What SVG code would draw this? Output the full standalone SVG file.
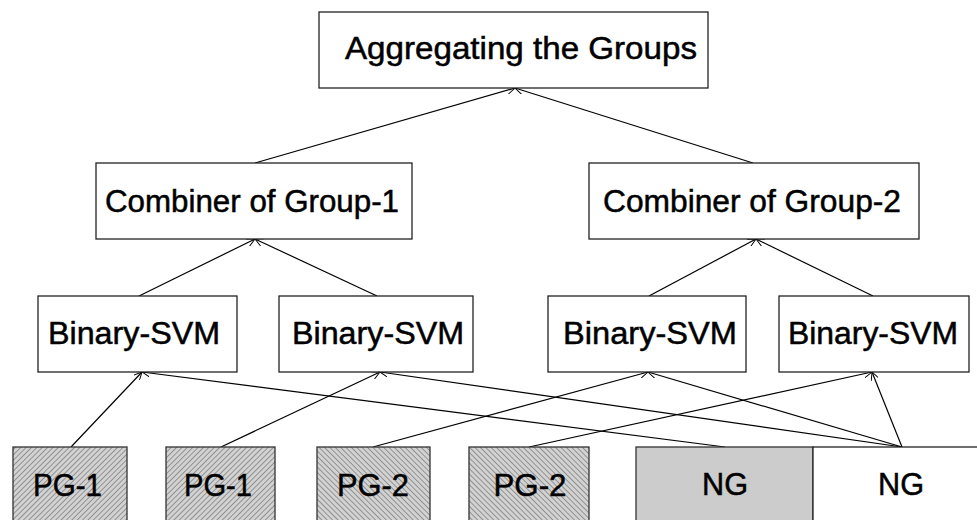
<svg xmlns="http://www.w3.org/2000/svg" width="977" height="520" viewBox="0 0 977 520">
<style>
.box{fill:#fff;stroke:#222;stroke-width:1.3}
.pg1{fill:url(#h1);stroke:#333;stroke-width:1.3}
.pg2{fill:url(#h2);stroke:#333;stroke-width:1.3}
.ng{fill:#cccccc;stroke:#333;stroke-width:1.3}
.t{font-family:"Liberation Sans",Arial,sans-serif;font-size:31px;fill:#000;stroke:#000;stroke-width:0.5;text-anchor:middle}
.c{stroke:#000;stroke-width:1.2;fill:none;marker-end:url(#a)}
</style>
<defs>
<pattern id="h1" patternUnits="userSpaceOnUse" width="3.8" height="3.8" patternTransform="rotate(45)">
<rect width="3.8" height="3.8" fill="#d2d2d2"/>
<line x1="0" y1="0" x2="0" y2="3.8" stroke="#444" stroke-width="0.9"/>
</pattern>
<pattern id="h2" patternUnits="userSpaceOnUse" width="3.8" height="3.8" patternTransform="rotate(-45)">
<rect width="3.8" height="3.8" fill="#d2d2d2"/>
<line x1="0" y1="0" x2="0" y2="3.8" stroke="#444" stroke-width="0.9"/>
</pattern>
<marker id="a" viewBox="0 0 10 10" refX="10" refY="5" markerWidth="8" markerHeight="8" markerUnits="userSpaceOnUse" orient="auto">
<path d="M0,0 L10,5 L0,10" fill="none" stroke="#000" stroke-width="1.2"/>
</marker>
</defs>
<g id="connectors">
<line class="c" x1="255" y1="163" x2="515" y2="88"/>
<line class="c" x1="753" y1="163" x2="515" y2="88"/>
<line class="c" x1="139" y1="296" x2="255" y2="239"/>
<line class="c" x1="377" y1="296" x2="255" y2="239"/>
<line class="c" x1="649" y1="296" x2="756" y2="239"/>
<line class="c" x1="873" y1="296" x2="756" y2="239"/>
<line class="c" x1="71" y1="447" x2="142" y2="372"/>
<line class="c" x1="221" y1="447" x2="380" y2="372"/>
<line class="c" x1="373" y1="447" x2="648" y2="372"/>
<line class="c" x1="529" y1="447" x2="872" y2="372"/>
<line class="c" x1="725" y1="447" x2="142" y2="372"/>
<line class="c" x1="902" y1="447" x2="380" y2="372"/>
<line class="c" x1="902" y1="447" x2="648" y2="372"/>
<line class="c" x1="902" y1="447" x2="872" y2="372"/>
</g>
<g id="aggregate">
<rect class="box" x="319" y="12" width="389" height="76"/>
<text class="t" x="521" y="58.5" textLength="352" lengthAdjust="spacingAndGlyphs">Aggregating the Groups</text>
</g>
<g id="combiner1">
<rect class="box" x="96" y="163" width="316" height="76"/>
<text class="t" x="252" y="211.5" textLength="294" lengthAdjust="spacingAndGlyphs">Combiner of Group-1</text>
</g>
<g id="combiner2">
<rect class="box" x="589" y="163" width="330" height="76"/>
<text class="t" x="752" y="211.5" textLength="298" lengthAdjust="spacingAndGlyphs">Combiner of Group-2</text>
</g>
<g id="svm1">
<rect class="box" x="38" y="296" width="199" height="76"/>
<text class="t" x="134" y="344" textLength="172" lengthAdjust="spacingAndGlyphs">Binary-SVM</text>
</g>
<g id="svm2">
<rect class="box" x="279" y="296" width="194" height="76"/>
<text class="t" x="378" y="344" textLength="172" lengthAdjust="spacingAndGlyphs">Binary-SVM</text>
</g>
<g id="svm3">
<rect class="box" x="548" y="296" width="198" height="76"/>
<text class="t" x="650" y="344" textLength="174" lengthAdjust="spacingAndGlyphs">Binary-SVM</text>
</g>
<g id="svm4">
<rect class="box" x="779" y="296" width="190" height="76"/>
<text class="t" x="873" y="344" textLength="170" lengthAdjust="spacingAndGlyphs">Binary-SVM</text>
</g>
<g id="pg1a">
<rect class="pg1" x="13" y="447" width="114" height="80"/>
<text class="t" x="67.5" y="496" textLength="69" lengthAdjust="spacingAndGlyphs">PG-1</text>
</g>
<g id="pg1b">
<rect class="pg1" x="166" y="447" width="109" height="80"/>
<text class="t" x="218" y="496" textLength="68" lengthAdjust="spacingAndGlyphs">PG-1</text>
</g>
<g id="pg2a">
<rect class="pg2" x="317" y="447" width="113" height="80"/>
<text class="t" x="373" y="496" textLength="72" lengthAdjust="spacingAndGlyphs">PG-2</text>
</g>
<g id="pg2b">
<rect class="pg2" x="469" y="447" width="120" height="80"/>
<text class="t" x="530" y="496" textLength="73" lengthAdjust="spacingAndGlyphs">PG-2</text>
</g>
<g id="ng1">
<rect class="ng" x="636" y="447" width="177" height="80"/>
<text class="t" x="725" y="495" textLength="46" lengthAdjust="spacingAndGlyphs">NG</text>
</g>
<g id="ng2">
<rect class="box" x="813" y="447" width="180" height="80"/>
<text class="t" x="901" y="495" textLength="46" lengthAdjust="spacingAndGlyphs">NG</text>
</g>
</svg>
